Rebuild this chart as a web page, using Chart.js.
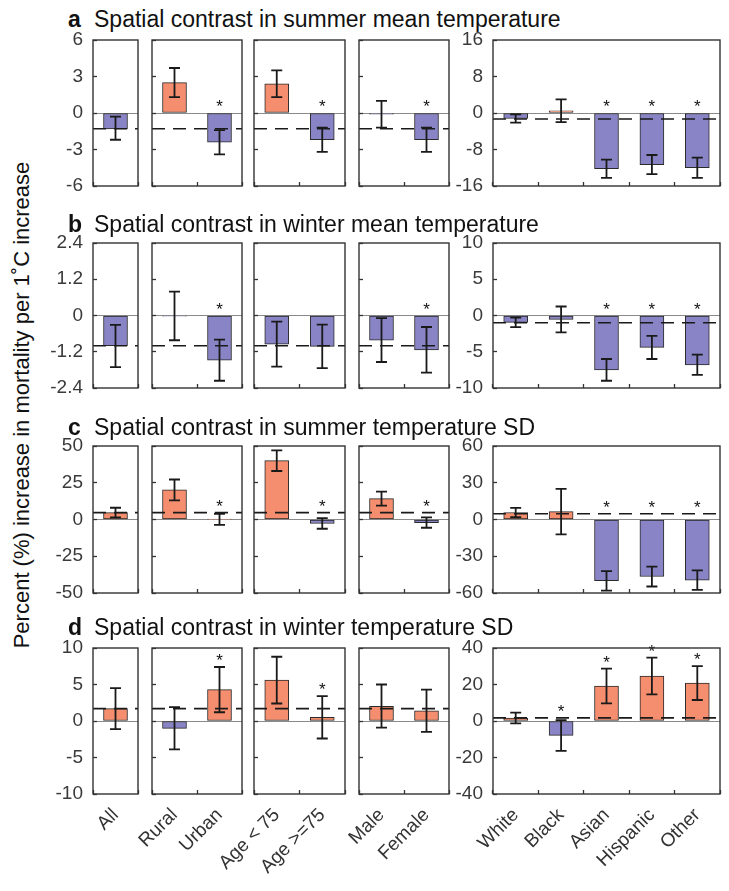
<!DOCTYPE html>
<html>
<head>
<meta charset="utf-8">
<script src="https://cdn.jsdelivr.net/npm/chart.js@4.4.1/dist/chart.umd.min.js"></script>
<style>
  body { margin: 0; background: #fff; }
  #fig { position: relative; width: 729px; height: 891px; font-family: "Liberation Sans", Arial, sans-serif; color: #111; }
  #fig canvas { position: absolute; }
  .letter, .title { position: absolute; font-size: 23px; line-height: 23px; white-space: nowrap; }
  .letter { font-weight: bold; }
  #ylab { position: absolute; left: -228px; top: 393px; width: 500px; height: 24px; line-height: 24px;
          font-size: 22px; text-align: center; white-space: nowrap; transform: rotate(-90deg); }
</style>
</head>
<body>
<div id="fig">
  <div id="ylab">Percent (%) increase in mortality per 1&#730;C increase</div>
</div>
<script>
// categories, grouped into the five panels of each row
const categories = ["All", "Rural", "Urban", "Age < 75", "Age >=75", "Male", "Female",
                    "White", "Black", "Asian", "Hispanic", "Other"];
const panelSizes = [1, 2, 2, 2, 5];

const rowLetters = ["a", "b", "c", "d"];
const rowTitles = [
  "Spatial contrast in summer mean temperature",
  "Spatial contrast in winter mean temperature",
  "Spatial contrast in summer temperature SD",
  "Spatial contrast in winter temperature SD"
];

// a: summer mean temperature
const summerMean     = [-1.3, 2.5, -2.4, 2.4, -2.2, -0.1, -2.2, -1.2, 0.5, -12.2, -11.3, -12.0];
const summerMeanLow  = [-2.2, 1.3, -3.4, 1.3, -3.2, -1.2, -3.2, -2.1, -2.0, -14.2, -13.4, -14.2];
const summerMeanHigh = [-0.3, 3.7, -1.4, 3.5, -1.2, 1.0, -1.2, -0.3, 3.0, -10.2, -9.2, -9.8];
const summerMeanSig  = [0, 0, 1, 0, 1, 0, 1, 0, 0, 1, 1, 1];

// b: winter mean temperature
const winterMean     = [-1.0, -0.02, -1.48, -0.95, -1.02, -0.82, -1.14, -0.95, -0.55, -7.5, -4.4, -6.8];
const winterMeanLow  = [-1.71, -0.82, -2.16, -1.69, -1.74, -1.54, -1.89, -1.6, -2.34, -9.0, -6.0, -8.2];
const winterMeanHigh = [-0.31, 0.79, -0.8, -0.2, -0.3, -0.09, -0.38, -0.3, 1.24, -6.0, -2.8, -5.4];
const winterMeanSig  = [0, 0, 1, 0, 0, 0, 1, 0, 0, 1, 1, 1];

// c: summer temperature SD
const summerSD     = [4.7, 20.1, 0.2, 40.0, -2.7, 14.2, -2.1, 5.7, 6.4, -50.0, -46.5, -49.5];
const summerSDLow  = [1.4, 13.0, -3.6, 33.0, -6.3, 9.4, -5.6, 1.9, -12.2, -58.0, -54.7, -57.4];
const summerSDHigh = [8.0, 27.2, 3.9, 47.0, 0.9, 18.9, 1.5, 9.5, 25.0, -42.2, -38.4, -41.6];
const summerSDSig  = [0, 0, 1, 0, 1, 0, 1, 0, 0, 1, 1, 1];

// d: winter temperature SD
const winterSD     = [1.7, -1.0, 4.3, 5.6, 0.5, 2.0, 1.4, 1.6, -7.9, 19.2, 24.6, 20.8];
const winterSDLow  = [-1.1, -3.9, 1.2, 2.4, -2.4, -0.9, -1.5, -1.3, -16.4, 9.7, 14.6, 11.5];
const winterSDHigh = [4.5, 1.9, 7.4, 8.8, 3.4, 5.0, 4.3, 4.6, 0.5, 28.7, 34.7, 30.1];
const winterSDSig  = [0, 0, 1, 0, 1, 0, 0, 0, 1, 1, 1, 1];

// y tick labels: the four small panels share one axis, race panel has its own
const groupTicks = [[-6, -3, 0, 3, 6], [-2.4, -1.2, 0, 1.2, 2.4], [-50, -25, 0, 25, 50], [-10, -5, 0, 5, 10]];
const raceTicks  = [[-16, -8, 0, 8, 16], [-10, -5, 0, 5, 10], [-60, -30, 0, 30, 60], [-40, -20, 0, 20, 40]];

const rows = [
  { val: summerMean, low: summerMeanLow, high: summerMeanHigh, sig: summerMeanSig },
  { val: winterMean, low: winterMeanLow, high: winterMeanHigh, sig: winterMeanSig },
  { val: summerSD,   low: summerSDLow,   high: summerSDHigh,   sig: summerSDSig },
  { val: winterSD,   low: winterSDLow,   high: winterSDHigh,   sig: winterSDSig }
];

// layout (pixels of the plot boxes)
const colLeft   = [93, 152, 254, 359, 493];
const colRight  = [138, 242, 345, 449, 720];
const rowTop    = [40, 243, 446, 648];
const rowBottom = [186, 388, 593, 794];
const titleBase = [27, 232, 435, 635];

const ORANGE = "#F58E6E";
const PURPLE = "#8884C5";
const FONT = "'Liberation Sans', Arial, sans-serif";

const fig = document.getElementById("fig");

function marksPlugin(low, high, sig, ref) {
  return {
    id: "marks",
    afterDatasetsDraw(chart) {
      const { ctx, chartArea: a } = chart;
      const y = chart.scales.y;
      const bars = chart.getDatasetMeta(0).data;
      ctx.save();
      // error bars
      ctx.strokeStyle = "#1a1a1a";
      ctx.lineWidth = 1.8;
      bars.forEach((bar, i) => {
        const y1 = y.getPixelForValue(low[i]);
        const y2 = y.getPixelForValue(high[i]);
        ctx.beginPath();
        ctx.moveTo(bar.x, y1); ctx.lineTo(bar.x, y2);
        ctx.moveTo(bar.x - 5.5, y1); ctx.lineTo(bar.x + 5.5, y1);
        ctx.moveTo(bar.x - 5.5, y2); ctx.lineTo(bar.x + 5.5, y2);
        ctx.stroke();
      });
      // dashed reference line at the "All" estimate
      const yr = y.getPixelForValue(ref);
      ctx.setLineDash([13, 8]);
      ctx.lineWidth = 1.6;
      ctx.beginPath();
      ctx.moveTo(a.left, yr); ctx.lineTo(a.right, yr);
      ctx.stroke();
      ctx.setLineDash([]);
      // significance stars
      ctx.fillStyle = "#111";
      ctx.font = "17px " + FONT;
      ctx.textAlign = "center";
      ctx.textBaseline = "alphabetic";
      bars.forEach((bar, i) => {
        if (!sig[i]) return;
        const top = y.getPixelForValue(Math.max(0, high[i], ref));
        ctx.fillText("*", bar.x, top - 1);
      });
      // box
      ctx.strokeStyle = "#333";
      ctx.lineWidth = 1.4;
      ctx.strokeRect(a.left, a.top, a.right - a.left, a.bottom - a.top);
      ctx.restore();
    }
  };
}

function makePanel(r, c) {
  const start = panelSizes.slice(0, c).reduce((s, n) => s + n, 0);
  const end = start + panelSizes[c];
  const labels = categories.slice(start, end);
  const row = rows[r];
  const vals = row.val.slice(start, end);
  const ticks = c === 4 ? raceTicks[r] : groupTicks[r];
  const showY = c === 0 || c === 4;
  const showX = r === 3;

  const yW = showY ? 70 : 0;
  const xH = showX ? 100 : 0;
  const padL = 110, padR = 12, padT = 24, padB = showX ? 110 : 20;
  const w = colRight[c] - colLeft[c];
  const h = rowBottom[r] - rowTop[r];

  const canvas = document.createElement("canvas");
  canvas.width = w + padL + padR;
  canvas.height = h + padT + padB;
  canvas.style.left = (colLeft[c] - padL) + "px";
  canvas.style.top = (rowTop[r] - padT) + "px";
  canvas.style.width = canvas.width + "px";
  canvas.style.height = canvas.height + "px";
  fig.appendChild(canvas);

  new Chart(canvas.getContext("2d"), {
    type: "bar",
    plugins: [marksPlugin(row.low.slice(start, end), row.high.slice(start, end),
                          row.sig.slice(start, end), row.val[0])],
    data: {
      labels,
      datasets: [{
        data: vals,
        backgroundColor: vals.map((v) => (v >= 0 ? ORANGE : PURPLE)),
        borderColor: "#2a2a2a",
        borderWidth: 1,
        borderSkipped: false,
        barThickness: 24
      }]
    },
    options: {
      responsive: false,
      animation: false,
      devicePixelRatio: 1,
      layout: { padding: { left: padL - yW, right: padR, top: padT, bottom: padB - xH } },
      plugins: { legend: { display: false }, tooltip: { enabled: false } },
      scales: {
        x: {
          offset: true,
          border: { display: false },
          grid: { drawOnChartArea: false, tickLength: -4, tickColor: "#333", tickWidth: 1.3 },
          ticks: {
            display: showX,
            autoSkip: false,
            minRotation: 45,
            maxRotation: 45,
            padding: 14,
            color: "#333",
            font: { family: FONT, size: 19 }
          },
          afterFit(scale) {
            scale.height = xH;
            scale.paddingLeft = scale.paddingRight = 0;
          }
        },
        y: {
          min: ticks[0],
          max: ticks[ticks.length - 1],
          border: { display: false },
          grid: {
            tickLength: -4,
            tickColor: "#333",
            tickWidth: 1.3,
            lineWidth: 1,
            color: (ctx) => (ctx.tick && ctx.tick.value === 0 ? "#8a8a8a" : "rgba(0,0,0,0)")
          },
          ticks: {
            display: showY,
            padding: 14,
            color: "#3a3a3a",
            font: { family: FONT, size: 19 },
            callback: (v) => String(v)
          },
          afterBuildTicks(scale) {
            scale.ticks = ticks.map((v) => ({ value: v }));
          },
          afterFit(scale) {
            scale.width = yW;
            scale.paddingTop = scale.paddingBottom = 0;
          }
        }
      }
    }
  });
}

for (let r = 0; r < 4; r++) {
  const letter = document.createElement("div");
  letter.className = "letter";
  letter.textContent = rowLetters[r];
  letter.style.left = "68px";
  letter.style.top = (titleBase[r] - 19) + "px";
  fig.appendChild(letter);

  const title = document.createElement("div");
  title.className = "title";
  title.textContent = rowTitles[r];
  title.style.left = "94px";
  title.style.top = (titleBase[r] - 19) + "px";
  fig.appendChild(title);

  for (let c = 0; c < 5; c++) makePanel(r, c);
}
</script>
</body>
</html>
